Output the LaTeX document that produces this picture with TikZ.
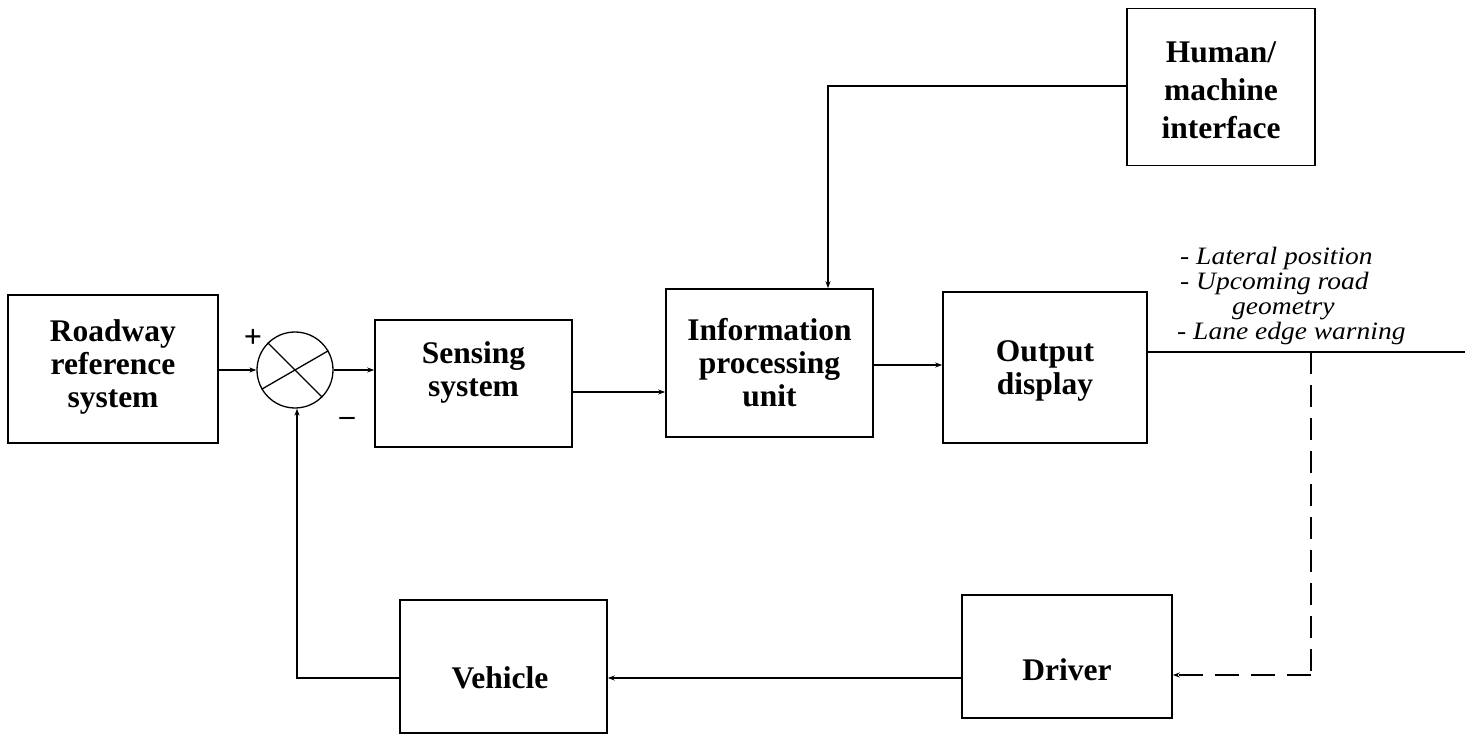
\documentclass[tikz,border=0pt]{standalone}
\usepackage{fontspec}
\setmainfont{Liberation Serif}
\newfontfamily\lblfont[FakeStretch=1.1]{Liberation Serif}
\usetikzlibrary{arrows.meta,calc}
\begin{document}
\begin{tikzpicture}[x=1pt,y=-1pt,
  blk/.style={draw,line width=1.6pt,rectangle,inner sep=0pt},
  txt/.style={align=center,inner sep=0pt,font=\bfseries\fontsize{31.5}{33}\selectfont},
  conn/.style={line width=1.2pt},
  arr/.style={line width=1.2pt,-{Stealth[length=7pt,width=5pt]}},
  lbl/.style={font=\lblfont\itshape\fontsize{25}{25}\selectfont,anchor=base west,inner sep=0pt},
  sgn/.style={font=\bfseries\fontsize{32}{32}\selectfont,inner sep=0pt}]
\useasboundingbox (0,0) rectangle (1465,751);
% blocks
\node[blk,minimum width=210pt,minimum height=148pt] (road) at (113,369) {};
\node[txt] (roadt) at (113,367) {Roadway\\reference\\system};
\node[draw,line width=1.3pt,circle,minimum size=76pt,inner sep=0pt] (sum) at (295,370) {};
\draw[line width=1.3pt] (sum.135) -- (sum.-45);
\draw[line width=1.3pt] (sum.210) -- (sum.30);
\node[blk,minimum width=197pt,minimum height=127pt] (sense) at (473.5,383.5) {};
\node[txt] (senset) at (473.5,372) {Sensing\\system};
\node[blk,minimum width=207pt,minimum height=148pt] (info) at (769.5,363) {};
\node[txt] (infot) at (769.5,363) {Information\\processing\\unit};
\node[blk,minimum width=204pt,minimum height=151pt] (out) at (1045,367.5) {};
\node[txt] (outt) at (1045,371) {Output\\display};
\node[blk,minimum width=188pt,minimum height=157pt] (hmi) at (1221,87) {};
\node[txt,font=\bfseries\fontsize{31.5}{38}\selectfont] (hmit) at (1221,90) {Human/\\machine\\interface};
\node[blk,minimum width=210pt,minimum height=123pt] (drv) at (1067,656.5) {};
\node[txt] (drvt) at (1067,670) {Driver};
\node[blk,minimum width=207pt,minimum height=133pt] (veh) at (503.5,666.5) {};
\node[txt] (veht) at (500,678) {Vehicle};
% signs
\node[sgn] (plus) at (253,338) {+};
\node[font=\bfseries\fontsize{30}{30}\selectfont,inner sep=0pt] (minus) at (347,421) {–};
% labels
\node[lbl] (l1) at (1180,265) {- Lateral position};
\node[lbl] (l2) at (1180,290) {- Upcoming road};
\node[lbl] (l3) at (1232,315) {geometry};
\node[lbl] (l4) at (1177,340) {- Lane edge warning};
% coordinates
\coordinate (oend) at (1465,352);
\coordinate (dtop) at (1311,352);
\coordinate (dbot) at (1311,675);
\coordinate (hcorner) at (828,86);
\coordinate (fcorner) at (297,678);
% connectors
\draw[arr] (road.east |- sum.west) -- (sum.west);
\draw[arr] (sum.east) -- (sum.east -| sense.west);
\draw[arr] (sense.east |- 0,392) -- (info.west |- 0,392);
\draw[arr] (info.east |- 0,365) -- (out.west |- 0,365);
\draw[conn] (out.east |- oend) -- (oend);
\draw[line width=1.2pt,dash pattern=on 22pt off 11pt] (dtop) -- (dbot);
\draw[line width=1.2pt,dash pattern=on 24pt off 12pt,-{Stealth[length=7pt,width=5pt]}] (dbot) -- (drv.east |- dbot);
\draw[arr] (hmi.west |- hcorner) -- (hcorner) -- (hcorner |- info.north);
\draw[arr] (drv.west |- 0,678) -- (veh.east |- 0,678);
\draw[line width=2pt,-{Stealth[length=7pt,width=5pt]}] (veh.west |- fcorner) -- (fcorner) -- (fcorner |- sum.south);
\end{tikzpicture}
\end{document}
